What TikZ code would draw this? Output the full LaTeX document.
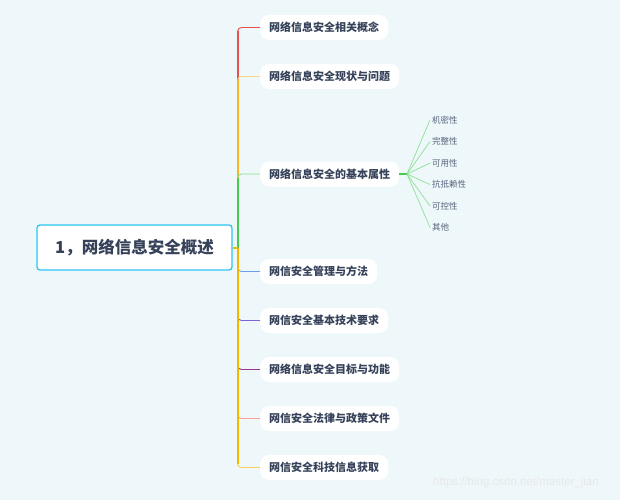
\documentclass[tikz,border=0pt]{standalone}
\usepackage{fontspec}
\setmainfont{Noto Sans CJK SC}
\newfontfamily\markfont{Liberation Sans}
\definecolor{bgcol}{HTML}{EEF8FB}
\definecolor{inkcol}{HTML}{36425A}
\definecolor{leafink}{HTML}{56627A}
\definecolor{rootline}{HTML}{2BC4F4}
\definecolor{cRed}{HTML}{EA4F4F}
\definecolor{cYel}{HTML}{F9B522}
\definecolor{cGrn}{HTML}{45CC4F}
\definecolor{cBlu}{HTML}{6C9FE6}
\definecolor{cPur}{HTML}{7E62D8}
\definecolor{cPlm}{HTML}{98398C}
\definecolor{cSal}{HTML}{FF8F85}
\definecolor{cOrg}{HTML}{F7B500}

\begin{document}
\begin{tikzpicture}[x=1pt, y=-1pt,
  root/.style={draw=rootline, line width=1.3pt, fill=white, rounded corners=3pt,
    minimum width=195pt, minimum height=45pt, text=inkcol,
    font=\fontsize{16.5}{18}\selectfont\bfseries},
  topic/.style={fill=white, rounded corners=9pt, inner xsep=9pt, inner ysep=0pt,
    minimum height=25pt, text=inkcol, font=\fontsize{11}{13}\selectfont\bfseries},
  leaf/.style={inner sep=2pt, text=leafink, font=\fontsize{8.5}{10}\selectfont},
  twig/.style={line width=0.9pt, rounded corners=4pt},
  trunk/.style={line width=2pt}]
\fill[bgcol] (0,0) rectangle (620,500);

% centre topic
\node[root] (root) at (134.5,247.5) {1，网络信息安全概述};
\coordinate (sp) at (237.5,247.5);

% main topics
\foreach \y/\name/\txt in {27.5/t1/网络信息安全相关概念, 76.5/t2/网络信息安全现状与问题,
  174/t3/网络信息安全的基本属性, 271.5/t4/网信安全管理与方法, 320.5/t5/网信安全基本技术要求,
  369.5/t6/网络信息安全目标与功能, 418.5/t7/网信安全法律与政策文件, 467.5/t8/网信安全科技信息获取}{
  \node[topic, anchor=west] (\name) at (260,\y) {\txt};
}

% branches
\foreach \name/\bcol/\tcol in {t1/cRed/cRed, t2/cYel/cYel!55, t3/cGrn/cGrn!65, t4/cBlu/cBlu,
  t5/cPur/cPur, t6/cPlm/cPlm, t7/cSal/cSal!85, t8/cOrg/cOrg!65}{
  \draw[twig, draw=\tcol] (sp) |- (\name.west);
  \draw[trunk, draw=\bcol, shorten >=4pt] (sp) -- (sp |- \name.west);
}
\draw[trunk, draw=cOrg] (root.east) -- (sp);

% properties
\coordinate (fork) at (407,174);
\draw[trunk, draw=cGrn] (t3.east) -- (fork);
\foreach \y/\name/\txt in {120/p1/机密性, 141.5/p2/完整性, 163/p3/可用性,
  184.5/p4/抗抵赖性, 206/p5/可控性, 227.5/p6/其他}{
  \node[leaf, anchor=west] (\name) at (430,\y) {\txt};
  \draw[cGrn!60, line width=0.7pt] (fork) -- (\name.west);
}

\node[text=white!82!gray, font=\markfont\fontsize{11.5}{13}\selectfont] (mark) at (516,483)
  {https://blog.csdn.net/master\_jian};
\end{tikzpicture}
\end{document}
